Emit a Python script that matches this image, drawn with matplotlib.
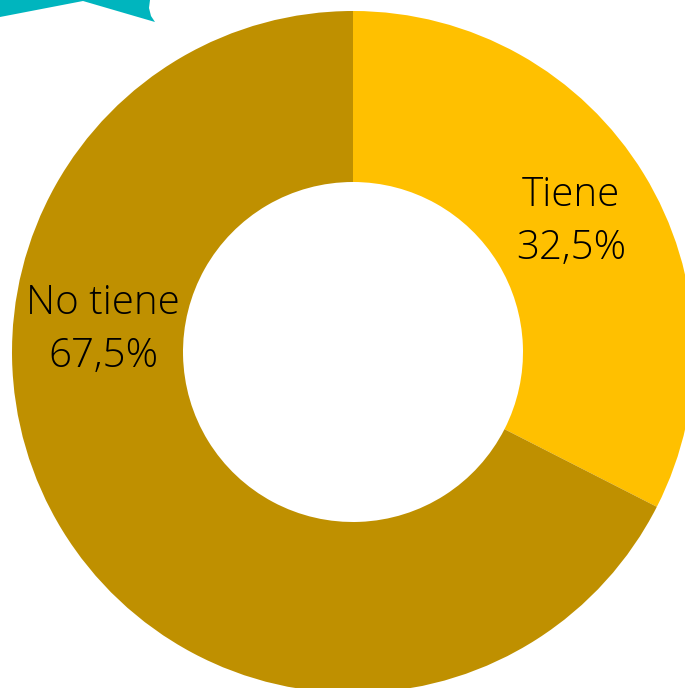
import matplotlib
matplotlib.use("Agg")
import matplotlib.pyplot as plt
from matplotlib.patches import Polygon

labels = ["Tiene", "No tiene"]
values = [32.5, 67.5]
colors = ["#FFC000", "#BF9000"]

W, H = 685, 688
cx, cy, R, r_in = 353, 352, 341, 170

fig = plt.figure(figsize=(W / 100, H / 100), dpi=100)
ax = fig.add_axes([0, 0, 1, 1])
ax.axis("off")

ax.pie(values, colors=colors, startangle=90, counterclock=False, radius=1,
       wedgeprops=dict(width=(R - r_in) / R, edgecolor="none"))
ax.set_xlim(-cx / R, (W - cx) / R)
ax.set_ylim(-(H - cy) / R, cy / R)
ax.set_aspect("auto")

def px(x, y):
    return (x - cx) / R, (cy - y) / R

font = dict(family=["Open Sans", "DejaVu Sans"], fontsize=29, fontweight="light",
            color="black", ha="center", va="center", linespacing=1.38)
tx, ty = px(571, 222)
ax.text(tx, ty, f"{labels[0]}\n{values[0]:.1f}%".replace(".", ","), **font)
nx, ny = px(103, 330)
ax.text(nx, ny, f"{labels[1]}\n{values[1]:.1f}%".replace(".", ","), **font)

# teal decorative shape at top-left
pts_px = [(0, 0), (150, 0), (149, 8), (151, 16), (155, 22), (83, 1), (0, 17)]
pts = [(x / W, 1 - y / H) for x, y in pts_px]
fig.patches.append(Polygon(pts, closed=True, transform=fig.transFigure,
                           facecolor="#00B5BE", edgecolor="none"))

fig.savefig("out.png", dpi=100)
